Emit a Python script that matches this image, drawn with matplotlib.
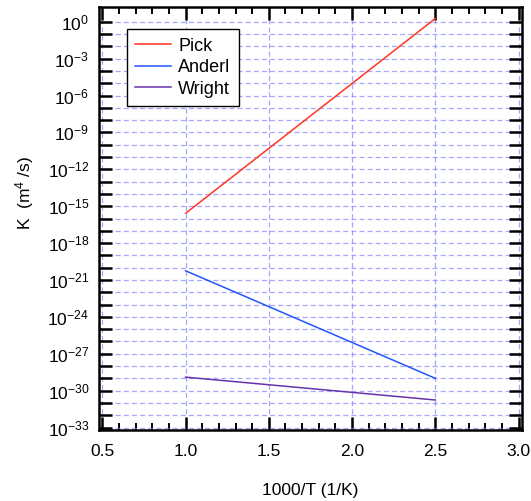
import math

import matplotlib
matplotlib.use("Agg")
import matplotlib.pyplot as plt
from matplotlib.ticker import FixedLocator, FuncFormatter, MultipleLocator

plt.rcParams["font.family"] = ["Liberation Sans", "DejaVu Sans"]
plt.rcParams["mathtext.fontset"] = "custom"
plt.rcParams["mathtext.rm"] = "Liberation Sans"
plt.rcParams["mathtext.it"] = "Liberation Sans"
plt.rcParams["mathtext.bf"] = "Liberation Sans"

# 1000/T (1/K)
inv_temp = [1.0, 2.5]
# K (m^4/s)
pick = [10 ** -15.58, 10 ** 0.27]
anderl = [10 ** -20.25, 10 ** -29.0]
wright = [10 ** -28.9, 10 ** -30.76]

series = [
    (pick, "Pick", "#ff3322"),
    (anderl, "Anderl", "#2255ff"),
    (wright, "Wright", "#6633aa"),
]

fig = plt.figure(figsize=(5.31, 5.01), dpi=100)
ax = fig.add_axes([0.1864, 0.1417, 0.7966, 0.8443])

for values, label, color in series:
    ax.plot(inv_temp, values, color=color, lw=1.1, label=label)

ax.set_yscale("log")
ax.set_xlim(0.48, 3.02)
ax.set_ylim(10 ** -33.2, 10 ** 1.2)

decades = list(range(-33, 1))
ax.yaxis.set_major_locator(FixedLocator([10.0 ** k for k in decades]))
ax.yaxis.set_minor_locator(FixedLocator([]))


def ylabel_fmt(v, pos):
    k = int(round(math.log10(v)))
    if k % 3 != 0:
        return ""
    return r"$10^{%d}$" % k


ax.yaxis.set_major_formatter(FuncFormatter(ylabel_fmt))
ax.xaxis.set_major_locator(MultipleLocator(0.5))
ax.xaxis.set_minor_locator(MultipleLocator(0.1))
ax.xaxis.set_major_formatter(FuncFormatter(lambda v, p: "%.1f" % v))

ax.tick_params(which="both", direction="in", top=True, right=True, labelsize=12.5)
ax.tick_params(which="major", length=9.5, width=1.8)
ax.tick_params(which="minor", length=5, width=1.4)
ax.tick_params(axis="x", pad=10)
ax.tick_params(axis="y", pad=7)

for sp in ax.spines.values():
    sp.set_linewidth(1.8)

ax.grid(True, which="major", color="#8080ff", lw=0.9, ls=(0, (4, 2.5)), alpha=0.7)
ax.set_axisbelow(True)

ax.set_xlabel("1000/T (1/K)", fontsize=12.5, labelpad=17)
ax.set_ylabel(r"K  (m$^4$ /s)", fontsize=12.5)
ax.yaxis.set_label_coords(-0.148, 0.56)

leg = ax.legend(
    loc="upper left",
    bbox_to_anchor=(0.066, 0.947),
    fontsize=13,
    frameon=True,
    fancybox=False,
    edgecolor="black",
    framealpha=1,
    handlelength=2.0,
    handletextpad=0.4,
    labelspacing=0.25,
    borderpad=0.45,
    borderaxespad=0,
)
leg.get_frame().set_linewidth(1.0)

fig.savefig("out.png", dpi=100)
